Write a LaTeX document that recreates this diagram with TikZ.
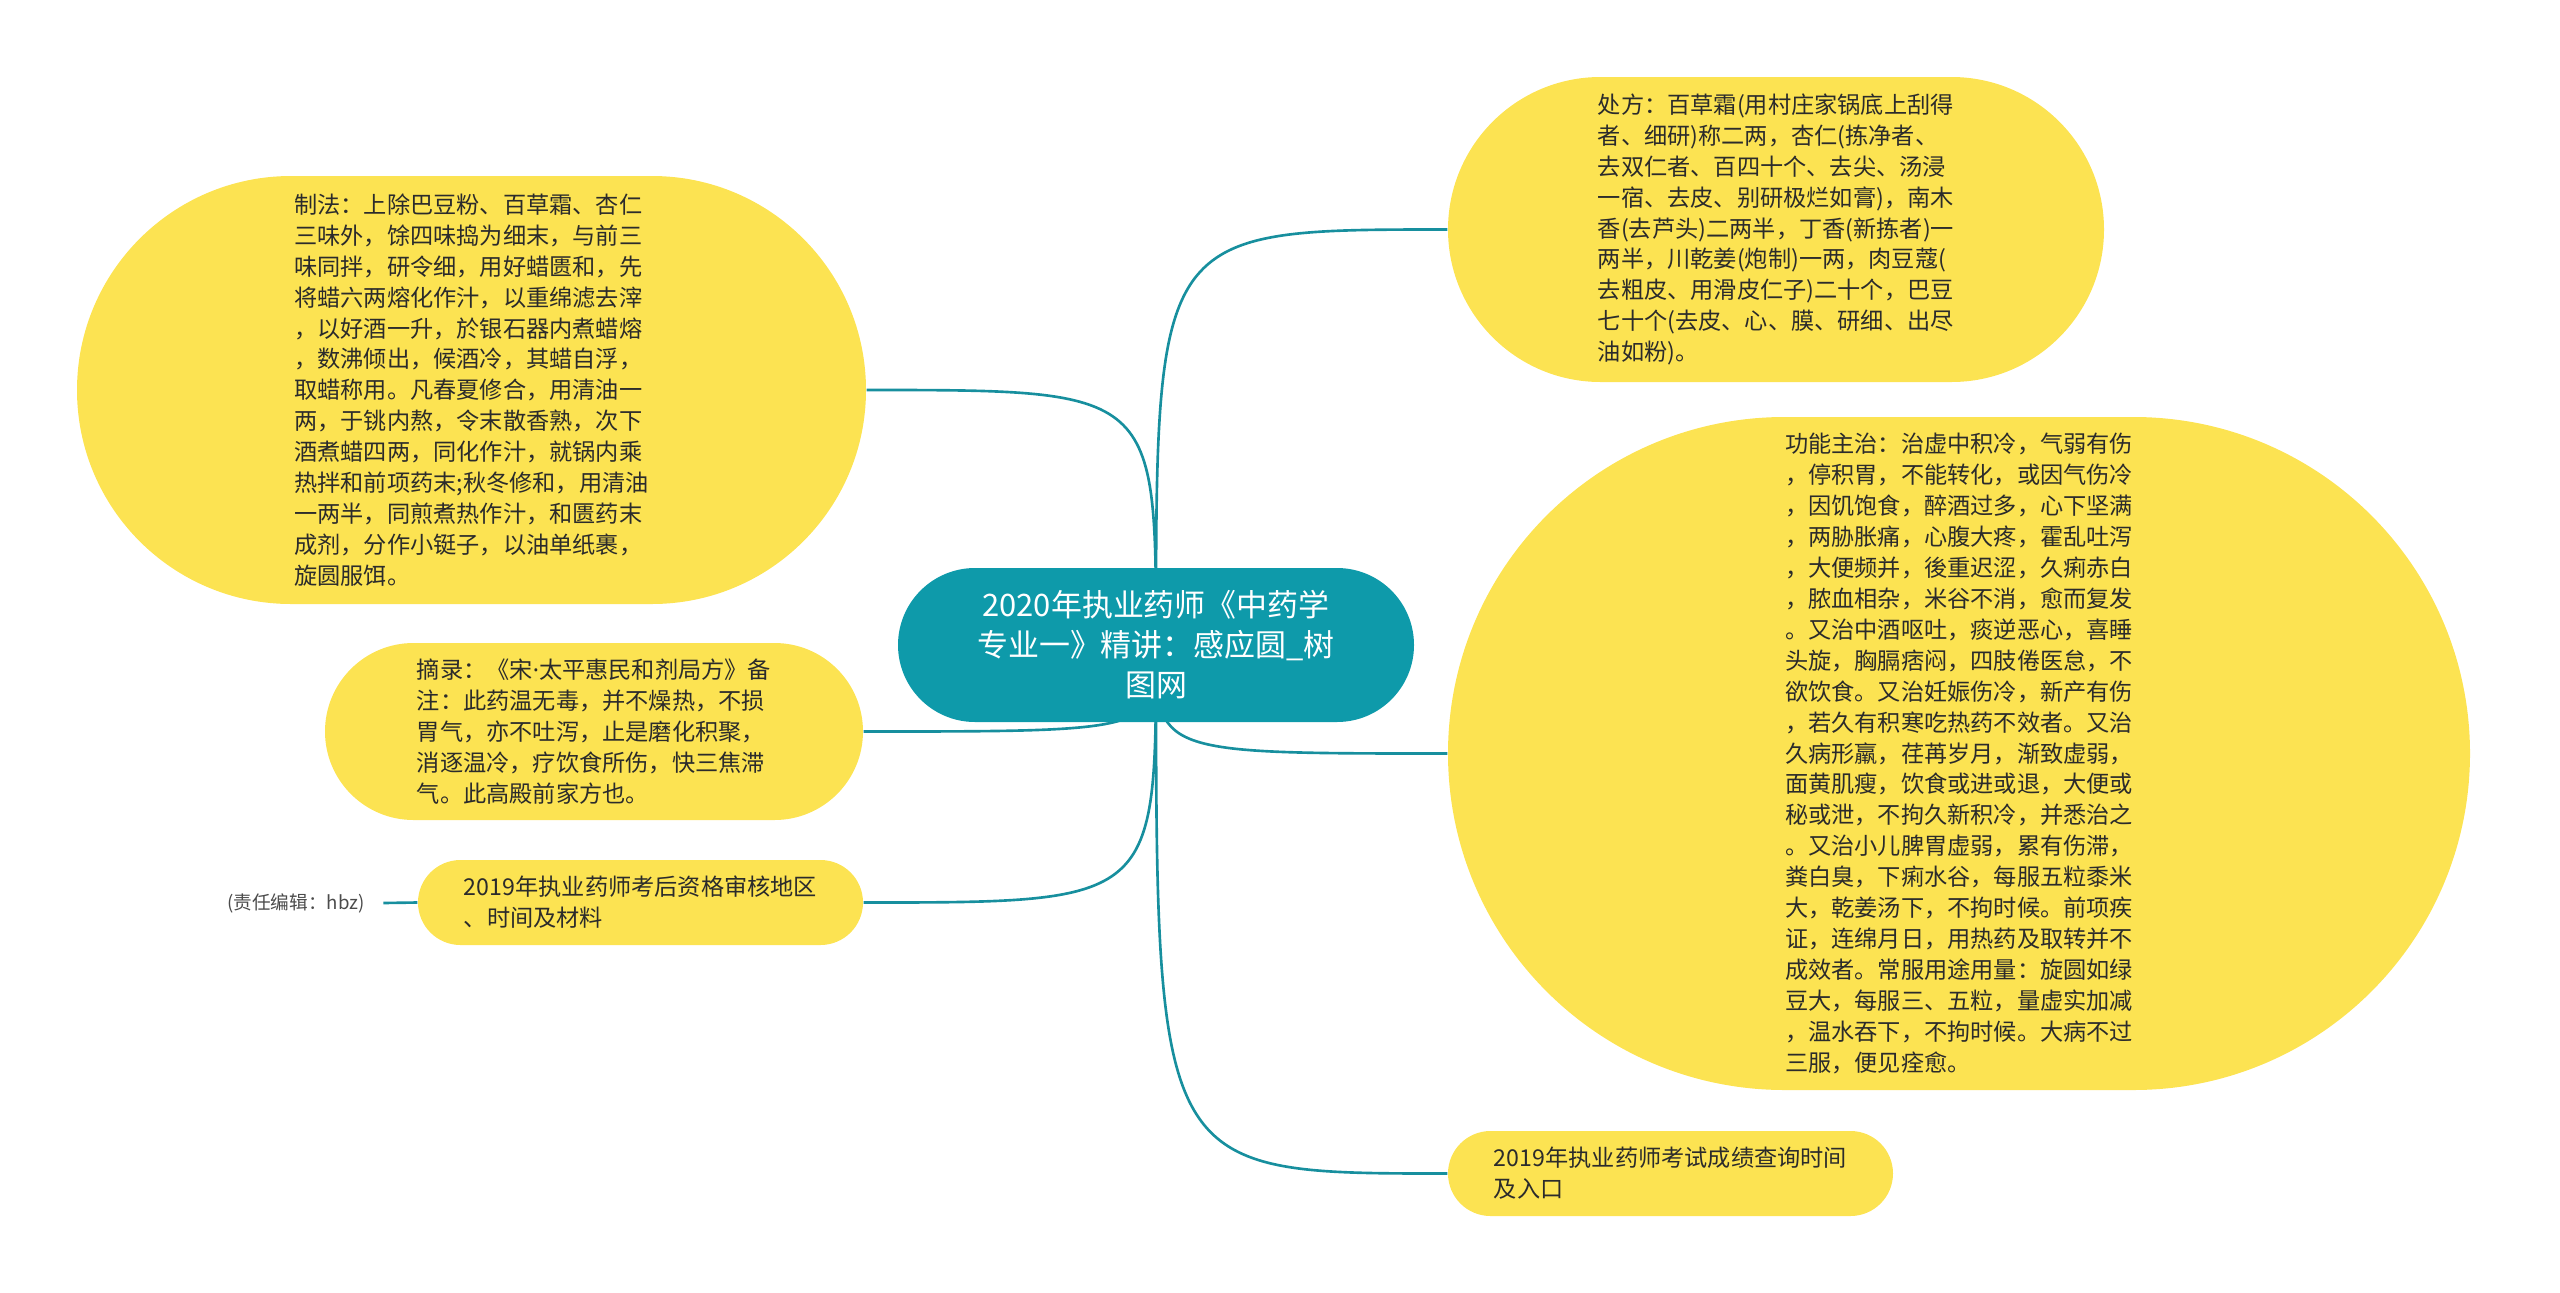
\documentclass[tikz,border=0pt]{standalone}
\usepackage{fontspec}
\setmainfont{Noto Sans CJK SC}
\newfontfamily\latindot{Noto Sans}
\usetikzlibrary{backgrounds}

\definecolor{hubteal}{HTML}{0E9AAA}
\definecolor{linkteal}{HTML}{178F9E}
\definecolor{leafyellow}{HTML}{FCE352}
\definecolor{inktext}{HTML}{2B2B2B}
\newcommand{\leaffont}{\fontsize{6.6pt}{8.8pt}\selectfont}
\newcommand{\hubfont}{\fontsize{8.8pt}{11.4pt}\selectfont}

\begin{document}
\begin{tikzpicture}[
    leafbox/.style={rectangle, fill=leafyellow, text=inktext, inner sep=0pt, align=left, font=\leaffont},
    hubbox/.style={rectangle, fill=hubteal, text=white, inner sep=0pt, align=center, font=\hubfont},
    link/.style={draw=linkteal, line width=0.75pt}
  ]
  \useasboundingbox (0,0) rectangle (25.6,-12.93);

  % centre
  \node[hubbox, minimum width=5.16cm, minimum height=1.54cm, rounded corners=0.77cm] (hub) at (11.56,-6.45)
    {2020年执业药师《中药学\\专业一》精讲：感应圆\_树\\图网};

  % left side
  \node[leafbox, minimum width=7.89cm, minimum height=4.28cm, rounded corners=2.14cm] (zhifa) at (4.715,-3.90)
    {制法：上除巴豆粉、百草霜、杏仁\\
     三味外，馀四味捣为细末，与前三\\
     味同拌，研令细，用好蜡匮和，先\\
     将蜡六两熔化作汁，以重绵滤去滓\\
     ，以好酒一升，於银石器内煮蜡熔\\
     ，数沸倾出，候酒冷，其蜡自浮，\\
     取蜡称用。凡春夏修合，用清油一\\
     两，于铫内熬，令末散香熟，次下\\
     酒煮蜡四两，同化作汁，就锅内乘\\
     热拌和前项药末;秋冬修和，用清油\\
     一两半，同煎煮热作汁，和匮药末\\
     成剂，分作小铤子，以油单纸裹，\\
     旋圆服饵。};
  \node[leafbox, minimum width=5.38cm, minimum height=1.77cm, rounded corners=0.885cm] (zhailu) at (5.94,-7.315)
    {摘录：《宋{\latindot ·}太平惠民和剂局方》备\\
     注：此药温无毒，并不燥热，不损\\
     胃气，亦不吐泻，止是磨化积聚，\\
     消逐温冷，疗饮食所伤，快三焦滞\\
     气。此高殿前家方也。};
  \node[leafbox, minimum width=4.45cm, minimum height=0.85cm, rounded corners=0.425cm] (kaohou) at (6.405,-9.025)
    {2019年执业药师考后资格审核地区\\、时间及材料};
  \node[text=inktext!85, inner xsep=0.18cm, inner ysep=0pt, font=\fontsize{5.3pt}{6.5pt}\selectfont] (editor) at (2.96,-9.03)
    {(责任编辑：hbz)};

  % right side
  \node[leafbox, minimum width=6.56cm, minimum height=3.05cm, rounded corners=1.525cm] (chufang) at (17.76,-2.295)
    {处方：百草霜(用村庄家锅底上刮得\\
     者、细研)称二两，杏仁(拣净者、\\
     去双仁者、百四十个、去尖、汤浸\\
     一宿、去皮、别研极烂如膏)，南木\\
     香(去芦头)二两半，丁香(新拣者)一\\
     两半，川乾姜(炮制)一两，肉豆蔻(\\
     去粗皮、用滑皮仁子)二十个，巴豆\\
     七十个(去皮、心、膜、研细、出尽\\
     油如粉)。};
  \node[leafbox, minimum width=10.22cm, minimum height=6.73cm, rounded corners=3.365cm] (gongneng) at (19.59,-7.535)
    {功能主治：治虚中积冷，气弱有伤\\
     ，停积胃，不能转化，或因气伤冷\\
     ，因饥饱食，醉酒过多，心下坚满\\
     ，两胁胀痛，心腹大疼，霍乱吐泻\\
     ，大便频并，後重迟涩，久痢赤白\\
     ，脓血相杂，米谷不消，愈而复发\\
     。又治中酒呕吐，痰逆恶心，喜睡\\
     头旋，胸膈痞闷，四肢倦医怠，不\\
     欲饮食。又治妊娠伤冷，新产有伤\\
     ，若久有积寒吃热药不效者。又治\\
     久病形羸，荏苒岁月，渐致虚弱，\\
     面黄肌瘦，饮食或进或退，大便或\\
     秘或泄，不拘久新积冷，并悉治之\\
     。又治小儿脾胃虚弱，累有伤滞，\\
     粪白臭，下痢水谷，每服五粒黍米\\
     大，乾姜汤下，不拘时候。前项疾\\
     证，连绵月日，用热药及取转并不\\
     成效者。常服用途用量：旋圆如绿\\
     豆大，每服三、五粒，量虚实加减\\
     ，温水吞下，不拘时候。大病不过\\
     三服，便见痊愈。};
  \node[leafbox, minimum width=4.45cm, minimum height=0.85cm, rounded corners=0.425cm] (chengji) at (16.705,-11.735)
    {2019年执业药师考试成绩查询时间\\及入口};

  % branches
  \begin{scope}[on background layer]
    \foreach \leaf/\side in {zhifa/east, zhailu/east, kaohou/east, chufang/west, gongneng/west, chengji/west}
      \draw[link] (hub.center) .. controls (hub.center |- \leaf.\side) .. (\leaf.\side);
  \end{scope}
  \draw[link] (editor.east) -- (kaohou.west);
\end{tikzpicture}
\end{document}
